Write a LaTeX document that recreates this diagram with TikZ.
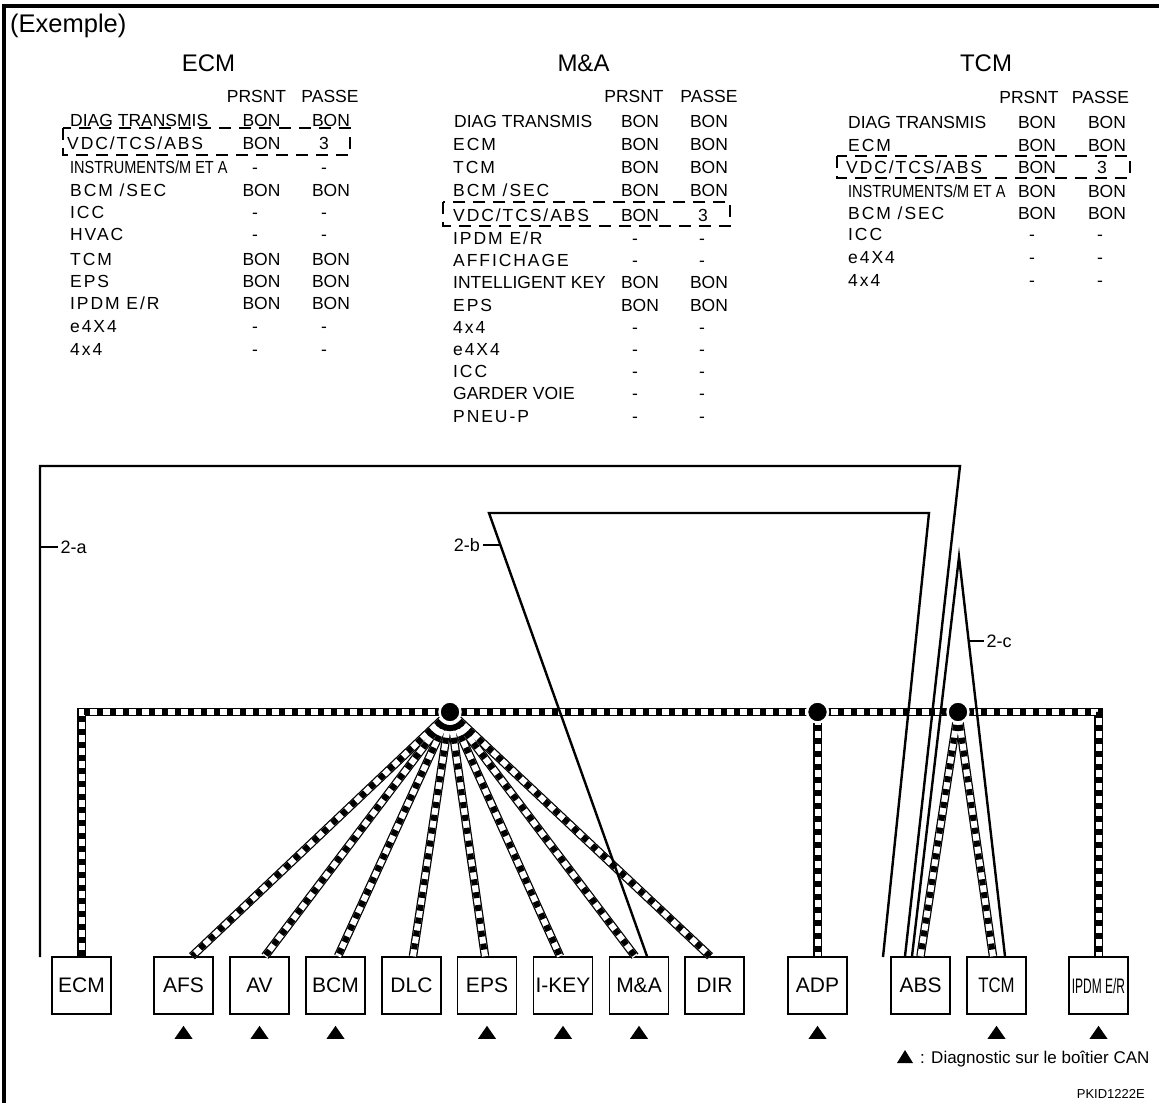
\documentclass[tikz,border=0pt]{standalone}
\usepackage{fontspec}
\setmainfont{Liberation Sans}
\newfontfamily\spfont[LetterSpace=11]{Liberation Sans}
\usetikzlibrary{calc}
\newcommand\tsz{\fontsize{17.5}{17.5}\selectfont}
\newcommand\lsz{\fontsize{17}{17}\selectfont}
\newcommand\hsz{\fontsize{24}{24}\selectfont}
\newcommand\bsz{\fontsize{21}{21}\selectfont}
\newcommand\sps[1]{{\spfont #1}}
\newcommand\cds[1]{\scalebox{0.83}[1]{#1}}
\newcommand\trow[8]{%
 \node[tabtxt,anchor=base west] (#1l) at (#2,#3) {#4};
 \node[tabtxt,anchor=base] (#1a) at (#5,#3) {#6};
 \node[tabtxt,anchor=base] (#1b) at (#7,#3) {#8};}
\tikzset{
 tabtxt/.style={inner sep=0pt,font=\tsz},
 headtxt/.style={inner sep=0pt,font=\hsz,anchor=base},
 dbox/.style={line width=2.6pt,dash pattern=on 12pt off 8pt},
 box/.style={draw,line width=1.6pt,minimum width=59pt,minimum height=57pt,inner sep=0pt,font=\bsz,fill=white},
 busb/.style={line width=8.5pt,black},
 busw/.style={line width=6pt,white},
 busd/.style={line width=6pt,black,dash pattern=on 6pt off 7pt},
 wire/.style={line width=2.4pt,line join=miter},
 tick/.style={line width=1.4pt},
 hub/.style={circle,fill=black,draw=white,line width=2.5pt,minimum size=21pt,inner sep=0pt},
 frame/.style={line width=3.5pt,line join=miter}
}
\begin{document}
\begin{tikzpicture}[x=1pt,y=-1pt]
\useasboundingbox (0,0) rectangle (1159,1103);
\fill[white] (0,0) rectangle (1159,1103);
\draw[frame] (4,1103) -- (4,6) -- (1159,6);
\node[inner sep=0pt,anchor=base west,font=\fontsize{25.5}{25.5}\selectfont] (ex) at (10,32) {(Exemple)};

% ---------- ECM table
\node[headtxt] (hecm) at (208.5,71) {ECM};
\node[tabtxt,anchor=base] (ep1) at (256.5,102) {PRSNT};
\node[tabtxt,anchor=base] (ep2) at (330,102) {PASSE};
\trow{e1}{70}{126}{DIAG TRANSMIS}{261.5}{BON}{331}{BON}
\trow{e2}{67}{149}{\sps{VDC/TCS/ABS}}{261.5}{BON}{324}{3}
\trow{e3}{70}{173}{\cds{INSTRUMENTS/M ET A}}{255}{-}{324}{-}
\trow{e4}{70}{196}{\sps{BCM /SEC}}{261.5}{BON}{331}{BON}
\trow{e5}{70}{218}{\sps{ICC}}{255}{-}{324}{-}
\trow{e6}{70}{240}{\sps{HVAC}}{255}{-}{324}{-}
\trow{e7}{70}{265}{\sps{TCM}}{261.5}{BON}{331}{BON}
\trow{e8}{70}{287}{\sps{EPS}}{261.5}{BON}{331}{BON}
\trow{e9}{70}{309}{\sps{IPDM E/R}}{261.5}{BON}{331}{BON}
\trow{e10}{70}{332}{\sps{e4X4}}{255}{-}{324}{-}
\trow{e11}{70}{355}{\sps{4x4}}{255}{-}{324}{-}
\draw[dbox] (63,128) rectangle (350,155);

% ---------- M&A table
\node[headtxt] (hma) at (583.5,71) {M\&A};
\node[tabtxt,anchor=base] (mp1) at (634,102) {PRSNT};
\node[tabtxt,anchor=base] (mp2) at (709,102) {PASSE};
\trow{m1}{454}{127}{DIAG TRANSMIS}{640}{BON}{709}{BON}
\trow{m2}{453}{150}{\sps{ECM}}{640}{BON}{709}{BON}
\trow{m3}{453}{173}{\sps{TCM}}{640}{BON}{709}{BON}
\trow{m4}{453}{196}{\sps{BCM /SEC}}{640}{BON}{709}{BON}
\trow{m5}{453}{221}{\sps{VDC/TCS/ABS}}{640}{BON}{703}{3}
\trow{m6}{453}{244}{\sps{IPDM E/R}}{635}{-}{702}{-}
\trow{m7}{453}{266}{\sps{AFFICHAGE}}{635}{-}{702}{-}
\trow{m8}{453}{288}{INTELLIGENT KEY}{640}{BON}{709}{BON}
\trow{m9}{453}{311}{\sps{EPS}}{640}{BON}{709}{BON}
\trow{m10}{453}{333}{\sps{4x4}}{635}{-}{702}{-}
\trow{m11}{453}{355}{\sps{e4X4}}{635}{-}{702}{-}
\trow{m12}{453}{377}{\sps{ICC}}{635}{-}{702}{-}
\trow{m13}{453}{399}{GARDER VOIE}{635}{-}{702}{-}
\trow{m14}{453}{422}{\sps{PNEU-P}}{635}{-}{702}{-}
\draw[dbox] (443,202) rectangle (730,226);

% ---------- TCM table
\node[headtxt] (htcm) at (986,71) {TCM};
\node[tabtxt,anchor=base] (tp1) at (1029,103) {PRSNT};
\node[tabtxt,anchor=base] (tp2) at (1100.5,103) {PASSE};
\trow{t1}{848}{128}{DIAG TRANSMIS}{1037}{BON}{1107}{BON}
\trow{t2}{848}{151}{\sps{ECM}}{1037}{BON}{1107}{BON}
\trow{t3}{846}{173}{\sps{VDC/TCS/ABS}}{1037}{BON}{1102}{3}
\trow{t4}{848}{197}{\cds{INSTRUMENTS/M ET A}}{1037}{BON}{1107}{BON}
\trow{t5}{848}{219}{\sps{BCM /SEC}}{1037}{BON}{1107}{BON}
\trow{t6}{848}{240}{\sps{ICC}}{1032}{-}{1100}{-}
\trow{t7}{848}{263}{\sps{e4X4}}{1032}{-}{1100}{-}
\trow{t8}{848}{286}{\sps{4x4}}{1032}{-}{1100}{-}
\draw[dbox] (837,156) rectangle (1130,178);

% ---------- units
\foreach \n/\t/\x in {ecm/ECM/81.5,afs/AFS/183.5,av/AV/259.5,bcm/BCM/335.5,dlc/DLC/411.5,eps/EPS/487,ikey/I-KEY/563,mna/M\&A/639,dir/DIR/714.5,adp/ADP/817.5,abs/ABS/920.5}
  \node[box] (\n) at (\x,985.5) {\t};
\node[box] (tcm) at (996.5,985.5) {\scalebox{0.8}[1]{TCM}};
\node[box] (ipdm) at (1098.5,985.5) {\scalebox{0.57}[1]{IPDM E/R}};

\coordinate (hA) at (450,712);
\coordinate (hB) at (adp.center |- hA);
\coordinate (hC) at (958,712);

% ---------- CAN bus
\foreach \st in {busb,busw,busd}{
  \draw[\st] (ecm.north) |- (hA) -| (ipdm.north);
  \foreach \b/\s in {afs/8.5,av/5.5,bcm/2.5,dlc/1.5,eps/-2,ikey/-3,mna/-4,dir/-4.5}
    \draw[\st] (hA) -- ([xshift=\s pt]\b.north);
  \draw[\st] (hB) -- (adp.north);
  \draw[\st] (hC) -- (abs.north);
  \draw[\st] (hC) -- ([xshift=-3.5pt]tcm.north);
}
\node[hub] (hAd) at (hA) {};
\node[hub] (hBd) at (hB) {};
\node[hub] (hCd) at (hC) {};

% ---------- check routes
\coordinate (a0) at (40,957);
\coordinate (a1) at (40,466);
\coordinate (a2) at (960,466);
\draw[wire] (a0) -- (a1) -- (a2) -- ([xshift=-15.5pt]abs.north);
\coordinate (b1) at (489,513);
\coordinate (b2) at (929,513);
\coordinate (b3) at (883,957);
\draw[wire] ([xshift=8pt]mna.north) -- (b1) -- (b2) -- (b3);
\coordinate (c1) at (959,557);
\draw[wire] ([xshift=-8.5pt]abs.north) -- (c1) -- ([xshift=8.5pt]tcm.north);

\coordinate (ta) at (40,547);
\draw[tick] (ta) -- ++(18,0) node[anchor=west,inner sep=0pt,font=\fontsize{18}{18}\selectfont,xshift=2pt] (la) {2-a};
\coordinate (tb) at (500.5,545);
\draw[tick] (tb) -- ++(-18,0) node[anchor=east,inner sep=0pt,font=\fontsize{18}{18}\selectfont,xshift=-2pt] (lb) {2-b};
\coordinate (tc) at (969,641);
\draw[tick] (tc) -- ++(15,0) node[anchor=west,inner sep=0pt,font=\fontsize{18}{18}\selectfont,xshift=2pt] (lc) {2-c};

% ---------- diagnosis triangles
\foreach \b in {afs,av,bcm,eps,ikey,mna,adp,tcm,ipdm}
  \fill ($(\b.south)+(0,11)$) -- ++(9,13) -- ++(-18,0) -- cycle;

\node[anchor=base west,inner sep=0pt,font=\lsz] (leg) at (920,1063) {: Diagnostic sur le boîtier CAN};
\fill ($(leg.base west)+(-15,-13)$) -- ++(8,13) -- ++(-16,0) -- cycle;
\node[anchor=base east,inner sep=0pt,font=\fontsize{13}{13}\selectfont] (pk) at (1145,1098) {PKID1222E};
\end{tikzpicture}
\end{document}
